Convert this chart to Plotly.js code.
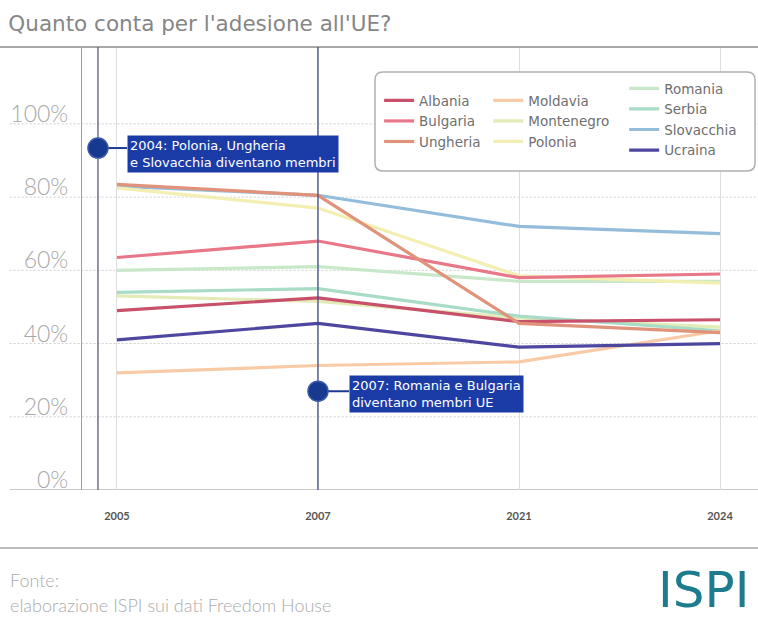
<!DOCTYPE html>
<html>
<head>
<meta charset="utf-8">
<script src="https://cdn.plot.ly/plotly-3.0.1.min.js"></script>
<style>html,body{margin:0;padding:0;background:#fff;}#chart{width:758px;height:624px;}</style>
</head>
<body>
<div id="chart"></div>
<script>
// ---- data ----
var years = ['2005', '2007', '2021', '2024'];
var albania    = [49, 52.5, 46, 46.5];
var bulgaria   = [63.5, 68, 58, 59];
var ungheria   = [83.5, 80.5, 45.5, 43];
var moldavia   = [32, 34, 35, 43.5];
var montenegro = [53, 51.5, 47, 44.5];
var polonia    = [82.5, 77, 58.5, 56.5];
var romania    = [60, 61, 57, 57];
var serbia     = [54, 55, 47.5, 43.5];
var slovacchia = [83, 80.5, 72, 70];
var ucraina    = [41, 45.5, 39, 40];
var yTicks = [0, 20, 40, 60, 80, 100];
var yTickText = ['0%', '20%', '40%', '60%', '80%', '100%'];

var names = ['Albania', 'Bulgaria', 'Ungheria', 'Moldavia', 'Montenegro', 'Polonia', 'Romania', 'Serbia', 'Slovacchia', 'Ucraina'];
var values = [albania, bulgaria, ungheria, moldavia, montenegro, polonia, romania, serbia, slovacchia, ucraina];
var colors = ['#c8506a', '#e87888', '#e0937a', '#f8cba6', '#e3ebb6', '#f3efb2', '#c9e7c9', '#a9dcc6', '#93bddb', '#4d479f'];
var legendOf = ['legend', 'legend', 'legend', 'legend2', 'legend2', 'legend2', 'legend3', 'legend3', 'legend3', 'legend3'];
// drawing order (Ungheria above Slovacchia)
var drawOrder = [8, 6, 4, 5, 7, 3, 1, 0, 2, 9];

var events = [
  {x: -0.0945, cy: 93.4, ty: 91.8, tx: 0.05, text: '2004: Polonia, Ungheria<br>e Slovacchia diventano membri', lineColor: '#565c7e'},
  {x: 1, cy: 27.0, ty: 26.2, tx: 1.155, text: '2007: Romania e Bulgaria<br>diventano membri UE', lineColor: '#3f4c8e'}
];

var traces = drawOrder.map(function (i) {
  return {
    type: 'scatter', mode: 'lines', x: years, y: values[i], name: names[i],
    line: {color: colors[i], width: 3.2}, legend: legendOf[i], legendrank: i,
    hoverinfo: 'x+y+name'
  };
});

var shapes = [];
// horizontal grid lines extending into the label area
yTicks.forEach(function (v) {
  shapes.push({type: 'line', xref: 'paper', yref: 'y', x0: -0.107, x1: 1, y0: v, y1: v,
    line: {color: v === 0 ? '#b4b4b4' : '#cfcfcf', width: v === 0 ? 1.6 : 1, dash: v === 0 ? 'solid' : '2px,2px'}, layer: 'below'});
});
// top and footer rules
shapes.push({type: 'line', xref: 'paper', yref: 'paper', x0: -0.125, x1: 1, y0: 1, y1: 1, line: {color: '#a8a8a8', width: 2}});
shapes.push({type: 'line', xref: 'paper', yref: 'paper', x0: -0.125, x1: 1, y0: -0.131, y1: -0.131, line: {color: '#bdbdbd', width: 2}});
// event lines, dots, connectors
events.forEach(function (e) {
  shapes.push({type: 'line', xref: 'x', yref: 'paper', x0: e.x, x1: e.x, y0: 0, y1: 1, line: {color: e.lineColor, width: 1.3}, layer: 'above'});
  shapes.push({type: 'line', xref: 'x', yref: 'y', x0: e.x, x1: e.tx, y0: e.cy, y1: e.cy, line: {color: '#1c3a92', width: 2}, layer: 'above'});
  shapes.push({type: 'circle', xref: 'x', yref: 'y', xsizemode: 'pixel', ysizemode: 'pixel',
    xanchor: e.x, yanchor: e.cy, x0: -10, x1: 10, y0: -10, y1: 10,
    fillcolor: '#17398f', line: {color: '#3a58a8', width: 1.5}, layer: 'above'});
});
// legend frame (rounded rectangle)
(function () {
  var x0 = 0.4334, x1 = 0.9956, y0 = 0.7201, y1 = 0.9436, rx = 0.0118, ry = 0.018;
  var p = 'M' + (x0 + rx) + ',' + y1 + ' L' + (x1 - rx) + ',' + y1 + ' Q' + x1 + ',' + y1 + ' ' + x1 + ',' + (y1 - ry) +
    ' L' + x1 + ',' + (y0 + ry) + ' Q' + x1 + ',' + y0 + ' ' + (x1 - rx) + ',' + y0 +
    ' L' + (x0 + rx) + ',' + y0 + ' Q' + x0 + ',' + y0 + ' ' + x0 + ',' + (y0 + ry) +
    ' L' + x0 + ',' + (y1 - ry) + ' Q' + x0 + ',' + y1 + ' ' + (x0 + rx) + ',' + y1 + ' Z';
  shapes.push({type: 'path', xref: 'paper', yref: 'paper', path: p, fillcolor: '#ffffff', line: {color: '#b0b0b0', width: 1.5}, layer: 'above'});
})();

var annotations = events.map(function (e) {
  return {xref: 'x', yref: 'y', x: e.tx, y: e.ty, xanchor: 'left', yanchor: 'middle', showarrow: false,
    text: e.text, align: 'left', bgcolor: '#1b3ca6', borderpad: 2,
    font: {family: 'DejaVu Sans, sans-serif', size: 13, color: '#ffffff'}};
});
annotations.push({xref: 'paper', yref: 'paper', x: -0.109, y: -0.203, xanchor: 'left', yanchor: 'middle', showarrow: false,
  text: 'Fonte:', font: {family: 'Lato, sans-serif', size: 18, color: '#ababab', weight: 300}});
annotations.push({xref: 'paper', yref: 'paper', x: -0.109, y: -0.260, xanchor: 'left', yanchor: 'middle', showarrow: false,
  text: 'elaborazione ISPI sui dati Freedom House', font: {family: 'Lato, sans-serif', size: 18, color: '#ababab', weight: 300}});
annotations.push({xref: 'paper', yref: 'paper', x: 0.849, y: -0.226, xanchor: 'left', yanchor: 'middle', showarrow: false,
  text: 'ISPI', font: {family: 'DejaVu Sans, sans-serif', size: 50, color: '#1c7c8e'}});

var legendFont = {family: 'DejaVu Sans, sans-serif', size: 13.5, color: '#6f6f6f'};
var legendBase = {bgcolor: 'rgba(0,0,0,0)', borderwidth: 0, font: legendFont, xanchor: 'left', yanchor: 'top', orientation: 'v', itemwidth: 30};

var layout = {
  width: 758, height: 624,
  margin: {l: 82, r: 0, t: 47, b: 134},
  paper_bgcolor: '#ffffff', plot_bgcolor: '#ffffff',
  title: {text: "Quanto conta per l'adesione all'UE?", xref: 'container', yref: 'container', x: 0.011, xanchor: 'left', y: 0.962, yanchor: 'middle',
    font: {family: 'DejaVu Sans, sans-serif', size: 21.5, color: '#868686'}},
  xaxis: {type: 'category', range: [-0.174, 3.189], showgrid: true, gridcolor: '#dedede', gridwidth: 1,
    showline: false, zeroline: false, ticks: '', ticklabelstandoff: 18,
    tickfont: {family: 'Lato, sans-serif', size: 11, color: '#555555', weight: 700}},
  yaxis: {range: [0, 121], tickvals: yTicks, ticktext: yTickText, showgrid: false, zeroline: false,
    showline: true, linecolor: '#a0a0a0', linewidth: 1.3, ticks: '', ticklabelstandoff: 8, ticklabelshift: -10,
    tickfont: {family: 'Lato, sans-serif', size: 23, color: '#a8a8a8', weight: 300}},
  showlegend: true,
  legend: Object.assign({}, legendBase, {x: 0.4395, y: 0.914}),
  legend2: Object.assign({}, legendBase, {x: 0.601, y: 0.914}),
  legend3: Object.assign({}, legendBase, {x: 0.802, y: 0.941}),
  shapes: shapes,
  annotations: annotations,
  hovermode: 'closest'
};

Plotly.newPlot('chart', traces, layout, {displayModeBar: false, responsive: false});
</script>
</body>
</html>
